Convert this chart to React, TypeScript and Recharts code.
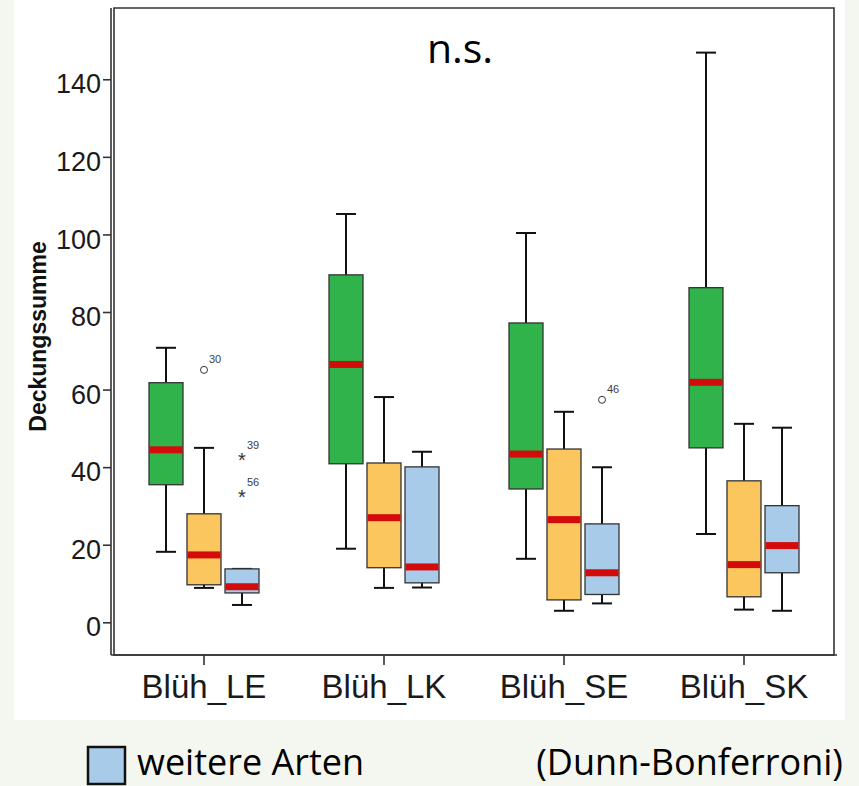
import { Bar, ComposedChart, ReferenceArea, XAxis, YAxis } from "recharts";

const categories = ["Blüh_LE", "Blüh_LK", "Blüh_SE", "Blüh_SK"];

// green group
const gruenMin = [18.3, 19.1, 16.5, 22.9];
const gruenQ1 = [35.6, 41.0, 34.5, 45.1];
const gruenMed = [44.6, 66.6, 43.5, 62.0];
const gruenQ3 = [61.9, 89.7, 77.3, 86.4];
const gruenMax = [70.9, 105.4, 100.5, 147.0];

// orange group
const orangeMin = [9.0, 9.0, 3.1, 3.4];
const orangeQ1 = [9.8, 14.2, 5.9, 6.7];
const orangeMed = [17.5, 27.1, 26.6, 15.0];
const orangeQ3 = [28.1, 41.2, 44.8, 36.6];
const orangeMax = [45.1, 58.2, 54.4, 51.3];

// blue group: weitere Arten
const weitereMin = [4.6, 9.1, 5.0, 3.1];
const weitereQ1 = [7.7, 10.3, 7.3, 12.9];
const weitereMed = [9.3, 14.4, 12.9, 19.9];
const weitereQ3 = [13.9, 40.2, 25.5, 30.2];
const weitereMax = [13.9, 44.1, 40.1, 50.3];

// outliers: [category index, value, case label, symbol]
const orangeOutliers: [number, number, string, string][] = [[0, 65.2, "30", "o"]];
const weitereOutliers: [number, number, string, string][] = [
  [0, 43.0, "39", "*"],
  [0, 33.5, "56", "*"],
  [2, 57.5, "46", "o"],
];

const yTicks = [0, 20, 40, 60, 80, 100, 120, 140];

type Stats = { min: number; q1: number; med: number; q3: number; max: number; out: [number, string, string][] };

const pick = (i: number, mn: number[], a: number[], m: number[], b: number[], mx: number[], outs: [number, number, string, string][]): Stats => ({
  min: mn[i],
  q1: a[i],
  med: m[i],
  q3: b[i],
  max: mx[i],
  out: outs.filter((o) => o[0] === i).map((o) => [o[1], o[2], o[3]] as [number, string, string]),
});

const rows = categories.map((cat, i) => ({
  cat,
  gruen: pick(i, gruenMin, gruenQ1, gruenMed, gruenQ3, gruenMax, []),
  orange: pick(i, orangeMin, orangeQ1, orangeMed, orangeQ3, orangeMax, orangeOutliers),
  weitere: pick(i, weitereMin, weitereQ1, weitereMed, weitereQ3, weitereMax, weitereOutliers),
}));

const FONT = "'Liberation Sans', Arial, sans-serif";
const LEGEND_FONT = "'Open Sans', sans-serif";

/** Draws one box: bar spans min..max, everything else placed with the same scale. */
function BoxShape(props: any) {
  const { x, y, width, height, payload, seriesKey, fill } = props;
  const s: Stats = payload[seriesKey];
  const top = Math.min(y, y + height);
  const h = Math.abs(height);
  const ppu = s.max > s.min ? h / (s.max - s.min) : 0;
  const yOf = (v: number) => top + (s.max - v) * ppu;
  const cx = x + width / 2;
  const cap = 10;
  return (
    <g>
      <line x1={cx} x2={cx} y1={yOf(s.max)} y2={yOf(s.min)} stroke="#111" strokeWidth={2} />
      <line x1={cx - cap} x2={cx + cap} y1={yOf(s.max)} y2={yOf(s.max)} stroke="#111" strokeWidth={2} />
      <line x1={cx - cap} x2={cx + cap} y1={yOf(s.min)} y2={yOf(s.min)} stroke="#111" strokeWidth={2} />
      <rect x={x} y={yOf(s.q3)} width={width} height={yOf(s.q1) - yOf(s.q3)} fill={fill} stroke="#333" strokeWidth={1.3} />
      <rect x={x + 0.5} y={yOf(s.med) - 3.5} width={width - 1} height={7} fill="#d40b0b" />
      {s.out.map(([v, label, sym]) => (
        <g key={label}>
          {sym === "o" ? (
            <circle cx={cx} cy={yOf(v)} r={3.5} fill="none" stroke="#333" strokeWidth={1} />
          ) : (
            <text x={cx} y={yOf(v) + 11} textAnchor="middle" fontFamily={FONT} fontSize={20} fill="#333">
              *
            </text>
          )}
          <text x={cx + 5} y={yOf(v) - 7} fontFamily={FONT} fontSize={11} fill="#3c3c3c">
            {label}
          </text>
        </g>
      ))}
    </g>
  );
}

export default function App() {
  return (
    <div style={{ position: "absolute", left: 0, top: 0, width: 859, height: 786, background: "#f4f7ef", overflow: "hidden" }}>
      <div style={{ position: "absolute", left: 14, top: 0, width: 831, height: 720, background: "#ffffff" }}>
        <ComposedChart
          width={831}
          height={720}
          data={rows}
          margin={{ top: 8, right: 8, bottom: 0, left: 0 }}
          barSize={34}
          barGap={4}
        >
          <ReferenceArea y1={-8.3} y2={158.5} ifOverflow="visible" fill="none" stroke="#333" strokeWidth={1.6} />
          <XAxis
            dataKey="cat"
            height={65}
            padding={{ left: 3, right: 3 }}
            tickSize={10}
            tickMargin={10}
            axisLine={{ stroke: "#333", strokeWidth: 1.6 }}
            tickLine={{ stroke: "#333", strokeWidth: 1.6 }}
            tick={{ fill: "#1a1a1a", fontSize: 33, fontFamily: FONT }}
          />
          <YAxis
            type="number"
            domain={[-8.3, 158.5]}
            allowDataOverflow
            ticks={yTicks}
            width={97}
            tickSize={8}
            tickMargin={2}
            axisLine={{ stroke: "#333", strokeWidth: 1.6 }}
            tickLine={{ stroke: "#333", strokeWidth: 1.6 }}
            tick={{ fill: "#1a1a1a", fontSize: 27, fontFamily: FONT, dy: 4 }}
            label={{
              value: "Deckungssumme",
              angle: -90,
              position: "insideLeft",
              offset: 24,
              dy: 5,
              style: { textAnchor: "middle", fontWeight: 700, fontSize: 23, fontFamily: FONT, fill: "#111" },
            }}
          />
          <Bar
            dataKey={(r: any) => [r.gruen.min, r.gruen.max]}
            fill="#2fb34a"
            isAnimationActive={false}
            shape={(p: any) => <BoxShape {...p} seriesKey="gruen" fill="#2fb34a" />}
          />
          <Bar
            dataKey={(r: any) => [r.orange.min, r.orange.max]}
            fill="#fbc65e"
            isAnimationActive={false}
            shape={(p: any) => <BoxShape {...p} seriesKey="orange" fill="#fbc65e" />}
          />
          <Bar
            dataKey={(r: any) => [r.weitere.min, r.weitere.max]}
            fill="#a9cbea"
            isAnimationActive={false}
            shape={(p: any) => <BoxShape {...p} seriesKey="weitere" fill="#a9cbea" />}
          />
        </ComposedChart>
      </div>
      <svg width={859} height={786} style={{ position: "absolute", left: 0, top: 0, pointerEvents: "none" }}>
        <text x={460} y={63} textAnchor="middle" fontFamily={LEGEND_FONT} fontSize={41} fill="#000">
          n.s.
        </text>
        <rect x={88} y={747} width={37} height={37} fill="#a9cbea" stroke="#111" strokeWidth={2.5} />
        <text x={137} y={775} fontFamily={LEGEND_FONT} fontSize={36} fill="#000">
          weitere Arten
        </text>
        <text x={843} y={775} textAnchor="end" fontFamily={LEGEND_FONT} fontSize={36} fill="#000">
          (Dunn-Bonferroni)
        </text>
      </svg>
    </div>
  );
}
